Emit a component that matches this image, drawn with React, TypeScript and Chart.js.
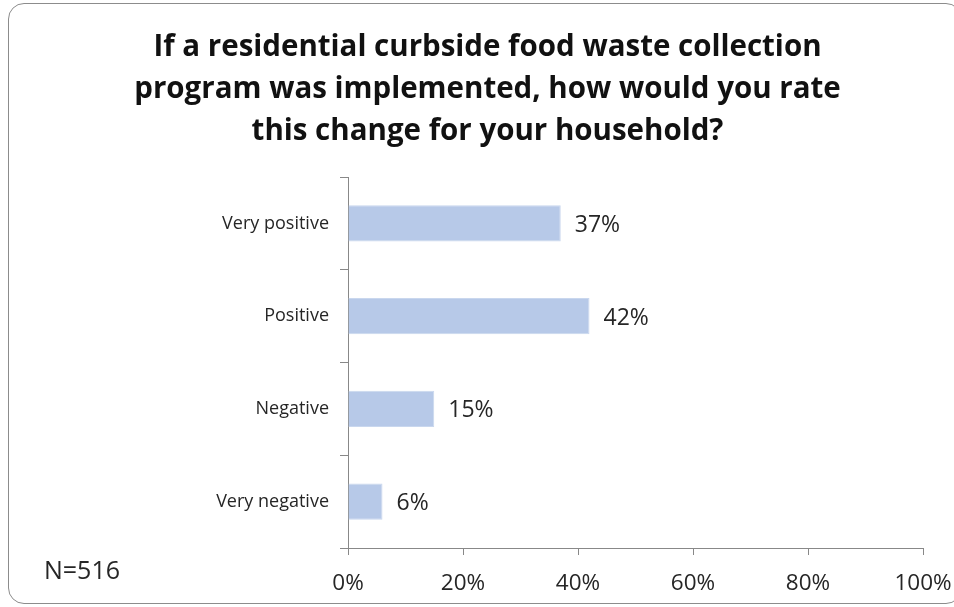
import React, { useEffect, useRef } from "react";
import { Chart, registerables } from "chart.js";

Chart.register(...registerables);

const titleLines = [
  "If a residential curbside food waste collection",
  "program was implemented, how would you rate",
  "this change for your household?",
];
const categories = ["Very positive", "Positive", "Negative", "Very negative"];
const shares = [37, 42, 15, 6];
const xTicks = [0, 20, 40, 60, 80, 100];
const sampleNote = "N=516";

const FONT = "'Open Sans', Lato, sans-serif";

export default function App() {
  const ref = useRef<HTMLCanvasElement | null>(null);

  useEffect(() => {
    document.documentElement.style.overflow = "hidden";
    document.body.style.overflow = "hidden";
    const canvas = ref.current;
    if (!canvas) return;

    const valueLabels = {
      id: "valueLabels",
      afterDatasetsDraw(chart: any) {
        const ctx = chart.ctx;
        const meta = chart.getDatasetMeta(0);
        ctx.save();
        ctx.font = `23px ${FONT}`;
        ctx.fillStyle = "#262626";
        ctx.textAlign = "left";
        ctx.textBaseline = "middle";
        meta.data.forEach((bar: any, i: number) => {
          ctx.fillText(`${shares[i]}%`, bar.x + 14, bar.y + 2);
        });
        ctx.restore();
      },
    };

    const noteLabel = {
      id: "noteLabel",
      afterDraw(chart: any) {
        const ctx = chart.ctx;
        ctx.save();
        ctx.font = `25px ${FONT}`;
        ctx.fillStyle = "#262626";
        ctx.textAlign = "left";
        ctx.textBaseline = "middle";
        ctx.fillText(sampleNote, 36, chart.chartArea.bottom + 24);
        ctx.restore();
      },
    };

    const chart = new Chart(canvas, {
      type: "bar",
      data: {
        labels: categories,
        datasets: [
          {
            data: shares,
            backgroundColor: "#b7c9e8",
            borderColor: "#c9d7ee",
            borderWidth: 1,
            barPercentage: 0.39,
            categoryPercentage: 1,
          },
        ],
      },
      options: {
        indexAxis: "y",
        animation: false,
        responsive: false,
        maintainAspectRatio: false,
        layout: { padding: { left: 44, right: 39, top: 0, bottom: 0 } },
        plugins: {
          legend: { display: false },
          tooltip: { enabled: false },
          title: {
            display: true,
            text: titleLines,
            color: "#111111",
            font: { family: FONT, size: 29.5, weight: "bold", lineHeight: 42 / 29.5 },
            padding: { top: 24, bottom: 24 },
          },
        },
        scales: {
          x: {
            min: 0,
            max: 100,
            afterBuildTicks(scale: any) {
              scale.ticks = xTicks.map((v) => ({ value: v }));
            },
            afterFit(scale: any) {
              scale.height = 56;
            },
            border: { display: true, color: "#888888", width: 1 },
            grid: {
              display: true,
              drawOnChartArea: false,
              drawTicks: true,
              tickLength: 7,
              color: "#888888",
            },
            ticks: {
              padding: 9,
              color: "#262626",
              font: { family: FONT, size: 22.5, lineHeight: 1.7 },
              callback: (v: any) => `${v}%`,
            },
          },
          y: {
            afterFit(scale: any) {
              scale.width = 296;
            },
            border: { display: true, color: "#888888", width: 1 },
            grid: {
              display: true,
              drawOnChartArea: false,
              drawTicks: true,
              tickLength: 8,
              color: "#888888",
            },
            ticks: {
              padding: 11,
              color: "#262626",
              font: { family: FONT, size: 18 },
            },
          },
        },
      },
      plugins: [valueLabels, noteLabel],
    });

    return () => chart.destroy();
  }, []);

  return (
    <div
      style={{
        position: "absolute",
        left: 8,
        top: 3,
        width: 954,
        height: 601,
        border: "1px solid #8c8c8c",
        borderRadius: 16,
        boxSizing: "border-box",
        overflow: "hidden",
        background: "#ffffff",
      }}
    >
      <canvas
        ref={ref}
        width={954}
        height={601}
        style={{ display: "block", position: "absolute", left: -1, top: -1, width: 954, height: 601 }}
      />
    </div>
  );
}
